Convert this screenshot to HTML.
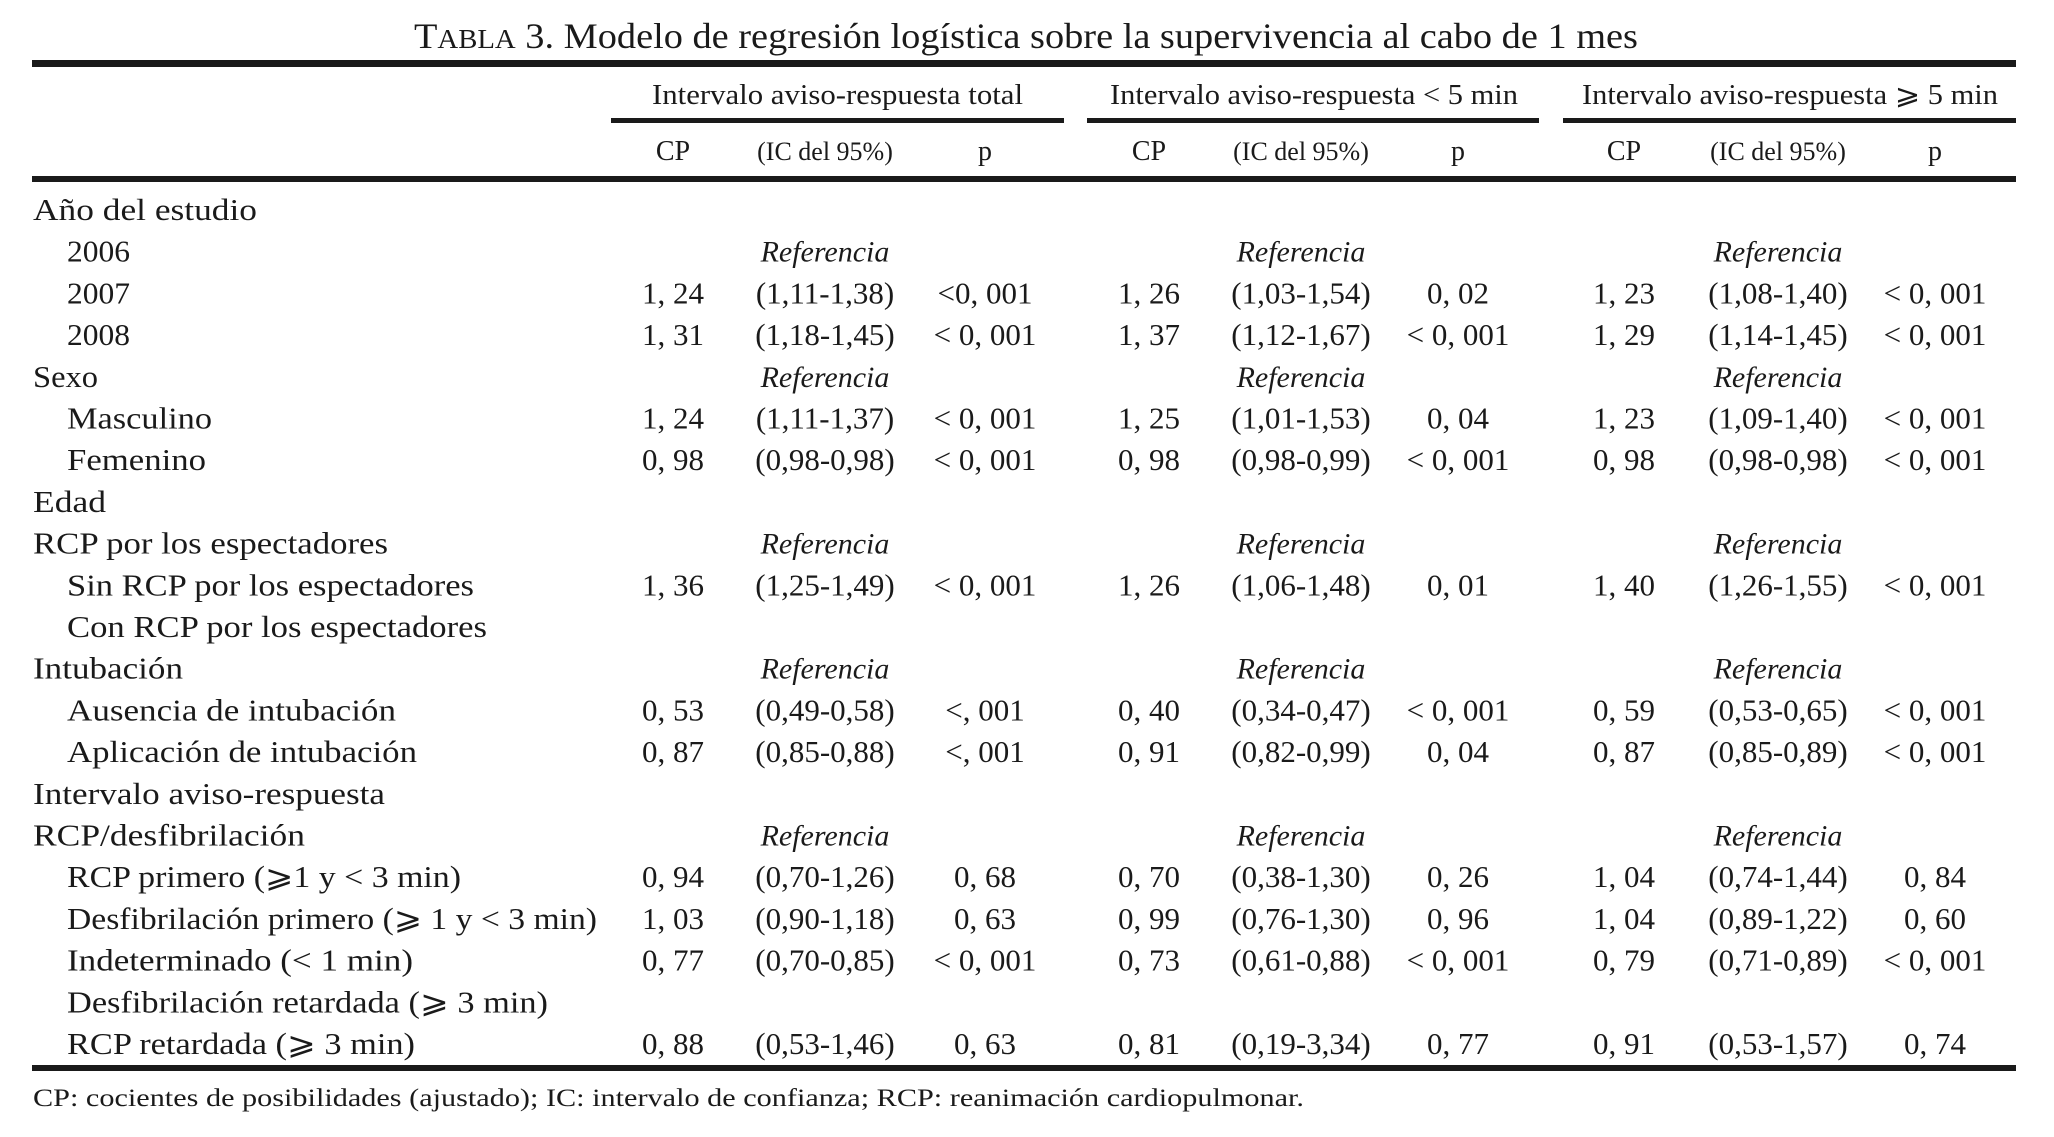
<!DOCTYPE html>
<html><head><meta charset="utf-8"><style>
html,body{margin:0;padding:0;background:#fff;}
svg{display:block;font-family:"Liberation Serif",serif;fill:#1a1a1a;}
</style></head><body>
<svg id="tbl" width="2054" height="1137" viewBox="0 0 2054 1137">
<text x="1026" y="48" font-size="36" text-anchor="middle" textLength="1224" lengthAdjust="spacingAndGlyphs">T<tspan font-size="27">ABLA</tspan> 3. Modelo de regresión logística sobre la supervivencia al cabo de 1 mes</text>
<rect x="32" y="60" width="1984" height="7" fill="#1a1a1a"/>
<rect x="611" y="118" width="453" height="5" fill="#1a1a1a"/>
<rect x="1087" y="118" width="452" height="5" fill="#1a1a1a"/>
<rect x="1563" y="118" width="453" height="5" fill="#1a1a1a"/>
<text x="652" y="104" font-size="28" textLength="371" lengthAdjust="spacingAndGlyphs">Intervalo aviso-respuesta total</text>
<text x="1110" y="104" font-size="28" textLength="408" lengthAdjust="spacingAndGlyphs">Intervalo aviso-respuesta &lt; 5 min</text>
<text x="1582" y="104" font-size="28" textLength="416" lengthAdjust="spacingAndGlyphs">Intervalo aviso-respuesta ⩾ 5 min</text>
<rect x="32" y="176" width="1984" height="6" fill="#1a1a1a"/>
<rect x="32" y="1065" width="1984" height="6" fill="#1a1a1a"/>
<text x="33" y="1106" font-size="25" textLength="1271" lengthAdjust="spacingAndGlyphs">CP: cocientes de posibilidades (ajustado); IC: intervalo de confianza; RCP: reanimación cardiopulmonar.</text>
</svg>
<script>
const labels = ["Año del estudio","2006","2007","2008","Sexo","Masculino","Femenino","Edad","RCP por los espectadores","Sin RCP por los espectadores","Con RCP por los espectadores","Intubación","Ausencia de intubación","Aplicación de intubación","Intervalo aviso-respuesta","RCP/desfibrilación","RCP primero (⩾1 y < 3 min)","Desfibrilación primero (⩾ 1 y < 3 min)","Indeterminado (< 1 min)","Desfibrilación retardada (⩾ 3 min)","RCP retardada (⩾ 3 min)"];
const indent = [0,1,1,1,0,1,1,0,0,1,1,0,1,1,0,0,1,1,1,1,1];
const labelEnds = [257,130,130,130,98,212,206,106,388,474,487,183,396,417,385,305,461,597,413,548,415];
const refRows = [1,4,8,11,15];
const valTotal = [null,null,["1, 24","(1,11-1,38)","<0, 001"],["1, 31","(1,18-1,45)","< 0, 001"],null,["1, 24","(1,11-1,37)","< 0, 001"],["0, 98","(0,98-0,98)","< 0, 001"],null,null,["1, 36","(1,25-1,49)","< 0, 001"],null,null,["0, 53","(0,49-0,58)","<, 001"],["0, 87","(0,85-0,88)","<, 001"],null,null,["0, 94","(0,70-1,26)","0, 68"],["1, 03","(0,90-1,18)","0, 63"],["0, 77","(0,70-0,85)","< 0, 001"],null,["0, 88","(0,53-1,46)","0, 63"]];
const valLt5 = [null,null,["1, 26","(1,03-1,54)","0, 02"],["1, 37","(1,12-1,67)","< 0, 001"],null,["1, 25","(1,01-1,53)","0, 04"],["0, 98","(0,98-0,99)","< 0, 001"],null,null,["1, 26","(1,06-1,48)","0, 01"],null,null,["0, 40","(0,34-0,47)","< 0, 001"],["0, 91","(0,82-0,99)","0, 04"],null,null,["0, 70","(0,38-1,30)","0, 26"],["0, 99","(0,76-1,30)","0, 96"],["0, 73","(0,61-0,88)","< 0, 001"],null,["0, 81","(0,19-3,34)","0, 77"]];
const valGe5 = [null,null,["1, 23","(1,08-1,40)","< 0, 001"],["1, 29","(1,14-1,45)","< 0, 001"],null,["1, 23","(1,09-1,40)","< 0, 001"],["0, 98","(0,98-0,98)","< 0, 001"],null,null,["1, 40","(1,26-1,55)","< 0, 001"],null,null,["0, 59","(0,53-0,65)","< 0, 001"],["0, 87","(0,85-0,89)","< 0, 001"],null,null,["1, 04","(0,74-1,44)","0, 84"],["1, 04","(0,89-1,22)","0, 60"],["0, 79","(0,71-0,89)","< 0, 001"],null,["0, 91","(0,53-1,57)","0, 74"]];
const colHeaders = ["CP","(IC del 95%)","p"];
const groupNames = ["total","lt5","ge5"];

const svg = document.getElementById('tbl');
const NS = 'http://www.w3.org/2000/svg';
const groupX = [[673,825,985],[1149,1301,1458],[1624,1778,1935]];
const rowY = i => 210 + i*41.7 + 10;
function txt(x,y,s,size,anchor){const t=document.createElementNS(NS,'text');t.setAttribute('x',x);t.setAttribute('y',y);t.setAttribute('font-size',size);if(anchor)t.setAttribute('text-anchor',anchor);t.textContent=s;svg.appendChild(t);return t;}
groupX.forEach((cols,g)=>{cols.forEach((cx,c)=>{
  const t=txt(cx,160,colHeaders[c],c==1?26:28,'middle');
  
  
});});
labels.forEach((l,i)=>{
  const x0 = indent[i]?67:33;
  const t=txt(x0,rowY(i),l,31);
  t.setAttribute('textLength', labelEnds[i]-x0);
  t.setAttribute('lengthAdjust','spacingAndGlyphs');
  
  
});
[valTotal,valLt5,valGe5].forEach((vals,g)=>{
  vals.forEach((v,i)=>{
    if(refRows.includes(i)){
      const t=txt(groupX[g][1],rowY(i),'Referencia',30,'middle');
      t.setAttribute('font-style','italic');
      
      
    }
    if(!v) return;
    v.forEach((s,c)=>{
      const t=txt(groupX[g][c],rowY(i),s,31,'middle');
      
      
    });
  });
});
</script>
</body></html>
